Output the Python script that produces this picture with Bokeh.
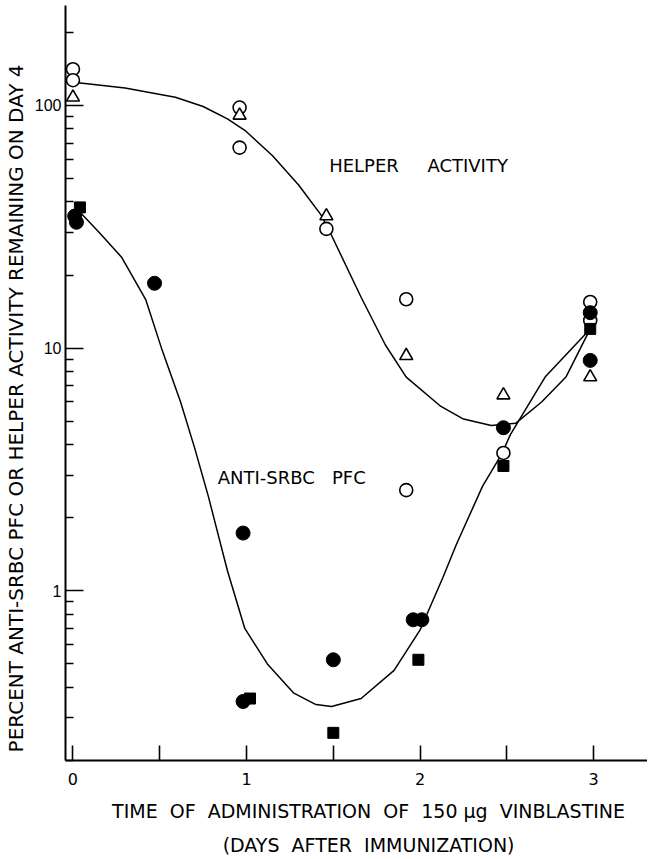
from bokeh.plotting import figure
from bokeh.models import FixedTicker, Range1d, Label, Title
from bokeh.embed import file_html
from bokeh.resources import INLINE

# ---- data ----
helper_circle_x = [0, 0, 0.96, 0.96, 1.46, 1.92, 1.92, 2.48, 2.98, 2.98]
helper_circle_y = [141, 127, 98, 67, 31, 15.9, 2.6, 3.7, 15.5, 13]
helper_tri_x = [0, 0.96, 1.46, 1.92, 2.48, 2.98]
helper_tri_y = [108, 91, 35, 9.3, 6.4, 7.6]
pfc_circle_x = [0.01, 0.02, 0.47, 0.98, 0.98, 1.5, 1.96, 2.01, 2.48, 2.98, 2.98]
pfc_circle_y = [35, 33, 18.5, 1.73, 0.35, 0.52, 0.76, 0.76, 4.7, 14, 8.9]
pfc_square_x = [0.04, 1.02, 1.5, 1.99, 2.48, 2.98]
pfc_square_y = [38, 0.36, 0.26, 0.52, 3.27, 12]

helper_curve_x = [0.03, 0.3, 0.59, 0.75, 0.89, 0.99, 1.15, 1.3, 1.43, 1.49, 1.66,
                  1.80, 1.92, 2.12, 2.25, 2.41, 2.55, 2.7, 2.84, 2.98]
helper_curve_y = [124, 118, 108, 99, 88, 79, 62, 47, 35.3, 29.1, 16.2,
                  10.3, 7.6, 5.75, 5.1, 4.8, 4.9, 6.0, 7.6, 12]
pfc_curve_x = [0.03, 0.15, 0.28, 0.42, 0.51, 0.62, 0.70, 0.78, 0.89, 0.99, 1.12,
               1.27, 1.40, 1.49, 1.66, 1.85, 2.0, 2.13, 2.21, 2.36, 2.47, 2.52, 2.72, 2.98]
pfc_curve_y = [37, 30, 23.7, 15.8, 10, 6, 3.9, 2.45, 1.21, 0.7, 0.5,
               0.38, 0.34, 0.334, 0.36, 0.47, 0.69, 1.13, 1.56, 2.7, 3.66, 4.4, 7.6, 12]

x_ticks = [0, 0.5, 1, 1.5, 2, 2.5, 3]
x_tick_labels = {0: "0", 0.5: "", 1: "1", 1.5: "", 2: "2", 2.5: "", 3: "3"}
y_ticks = [1, 10, 100]
y_tick_labels = {1: "1", 10: "10", 100: "100"}
y_minor = [0.2, 0.3, 0.4, 0.5, 0.6, 0.7, 0.8, 0.9,
           2, 3, 4, 5, 6, 7, 8, 9, 20, 30, 40, 50, 60, 70, 80, 90, 200]

NB = "\u00a0"
FONT = "DejaVu Sans"

p = figure(width=647, height=855, y_axis_type="log",
           x_range=Range1d(-0.043, 3.31), y_range=Range1d(0.2, 258),
           output_backend="svg", toolbar_location=None,
           min_border_left=63, min_border_right=0, min_border_top=5, min_border_bottom=40)
p.outline_line_color = None
p.xgrid.visible = False
p.ygrid.visible = False
p.background_fill_color = "white"

# curves
p.line(helper_curve_x, helper_curve_y, line_color="black", line_width=1.5)
p.line(pfc_curve_x, pfc_curve_y, line_color="black", line_width=1.5)

# markers
p.scatter(helper_circle_x, helper_circle_y, marker="circle", size=13,
          fill_color="white", line_color="black", line_width=1.6)
p.scatter(helper_tri_x, helper_tri_y, marker="triangle", size=13,
          fill_color="white", line_color="black", line_width=1.6)
p.scatter(pfc_circle_x, pfc_circle_y, marker="circle", size=14,
          fill_color="black", line_color="black")
p.scatter(pfc_square_x, pfc_square_y, marker="square", size=11,
          fill_color="black", line_color="black")

# axes
xa = p.xaxis[0]
xa.ticker = FixedTicker(ticks=x_ticks, minor_ticks=[])
xa.major_label_overrides = x_tick_labels
xa.major_tick_in = 15
xa.major_tick_out = 0
xa.minor_tick_in = 0
xa.minor_tick_out = 0
xa.axis_line_width = 2
xa.major_tick_line_width = 1.6
xa.major_label_standoff = 12
xa.major_label_text_font = FONT
xa.major_label_text_font_size = "16px"
xa.major_label_text_color = "black"

p.add_layout(Title(text=NB * 4 + "TIME" + NB * 2 + "OF" + NB * 2 + "ADMINISTRATION" + NB * 2 +
                   "OF" + NB * 2 + "150" + NB + "\u03bcg" + NB * 2 + "VINBLASTINE",
                   align="center", standoff=20,
                   text_font=FONT, text_font_size="19px", text_font_style="normal",
                   text_color="black"), "below")
p.add_layout(Title(text=NB * 4 + "(DAYS" + NB * 2 + "AFTER" + NB * 2 + "IMMUNIZATION)",
                   align="center", standoff=0,
                   text_font=FONT, text_font_size="19px", text_font_style="normal",
                   text_color="black"), "below")

ya = p.yaxis[0]
ya.ticker = FixedTicker(ticks=y_ticks, minor_ticks=y_minor)
ya.major_label_overrides = y_tick_labels
ya.major_tick_in = 18
ya.major_tick_out = 0
ya.minor_tick_in = 8
ya.minor_tick_out = 0
ya.axis_line_width = 2
ya.major_tick_line_width = 1.6
ya.minor_tick_line_width = 1.6
ya.major_label_standoff = 4
ya.major_label_text_font = "Liberation Sans"
ya.major_label_text_font_size = "16px"
ya.major_label_text_color = "black"
ya.axis_label = "PERCENT ANTI-SRBC PFC OR HELPER ACTIVITY REMAINING ON DAY 4" + NB * 8
ya.axis_label_text_font = FONT
ya.axis_label_text_font_size = "20px"
ya.axis_label_text_font_style = "normal"
ya.axis_label_text_color = "black"
ya.axis_label_standoff = 4

# in-plot labels
p.add_layout(Label(x=1.476, y=56.7, text="HELPER" + NB * 5 + "ACTIVITY",
                   text_font=FONT, text_font_size="18px", text_baseline="middle",
                   text_color="black"))
p.add_layout(Label(x=0.834, y=2.94, text="ANTI-SRBC" + NB * 3 + "PFC",
                   text_font=FONT, text_font_size="18px", text_baseline="middle",
                   text_color="black"))

open("out.html", "w").write(file_html(p, INLINE))
